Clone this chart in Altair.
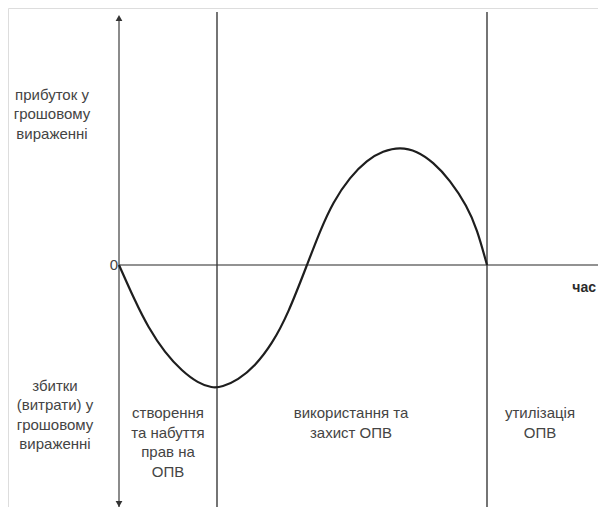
import altair as alt
import pandas as pd

# Curve (t: time units, v: money units; 1 unit ~ 10 px)
curve_t = [0.0, 1.6, 2.9, 4.6, 6.3, 7.9, 9.3, 10.3, 11.9, 13.6, 15.3, 16.9, 18.8,
           20.1, 21.4, 23.1, 24.8, 26.4, 28.1, 29.8, 31.4, 33.1, 34.8, 35.8, 36.8]
curve_v = [0.0, -3.6, -6.2, -8.8, -10.6, -11.8, -12.3, -12.2, -11.5, -10.1, -7.9, -4.9, 0.0,
           3.4, 6.3, 8.8, 10.5, 11.4, 11.8, 11.4, 10.3, 8.5, 5.9, 3.6, 0.0]

phase_lines_t = [9.8, 36.8]
phase_texts = ["створення\nта набуття\nправ на\nОПВ", "використання та\nзахист ОПВ", "утилізація\nОПВ"]
phase_text_t = [4.9, 23.2, 42.1]
phase_text_v = [-14.8, -14.8, -14.8]

y_labels = ["прибуток у\nгрошовому\nвираженні", "збитки\n(витрати) у\nгрошовому\nвираженні"]
y_label_t = [-6.7, -6.4]
y_label_v = [17.0, -12.1]

X_DOM = [-11.1, 47.9]
Y_DOM = [-24.2, 25.7]
W, H = 590, 499

xs = alt.Scale(domain=X_DOM, nice=False, zero=False)
ys = alt.Scale(domain=Y_DOM, nice=False, zero=False)

def X(f):
    return alt.X(f, type="quantitative", scale=xs, axis=None)

def Y(f):
    return alt.Y(f, type="quantitative", scale=ys, axis=None)

AXIS_COL = "#6e6e6e"
LINE_COL = "#3a3a3a"
TXT_COL = "#444444"
FONT = "Liberation Sans"

# axes
yaxis = pd.DataFrame({"t": [0.0], "v1": [24.6], "v2": [-24.2]})
xaxis = pd.DataFrame({"v": [0.0], "t1": [0.0], "t2": [47.9]})
yaxis_rule = alt.Chart(yaxis).mark_rule(color=AXIS_COL, strokeWidth=1.6).encode(
    x=X("t"), y=Y("v1"), y2="v2")
xaxis_rule = alt.Chart(xaxis).mark_rule(color=AXIS_COL, strokeWidth=1.6).encode(
    y=Y("v"), x=X("t1"), x2="t2")

arrows = pd.DataFrame({
    "t": [0.0, 0.0],
    "v": [24.7, -23.9],
    "shape": ["triangle-up", "triangle-down"],
})
arrow_marks = alt.Chart(arrows).mark_point(filled=True, size=45, color="#333333", opacity=1).encode(
    x=X("t"), y=Y("v"), shape=alt.Shape("shape:N", scale=None, legend=None))

vlines = pd.DataFrame({"t": phase_lines_t, "v1": [25.3, 25.3], "v2": [-24.2, -24.2]})
vline_rules = alt.Chart(vlines).mark_rule(color=LINE_COL, strokeWidth=1.4).encode(
    x=X("t"), y=Y("v1"), y2="v2")

cdf = pd.DataFrame({"t": curve_t, "v": curve_v})
curve_line = alt.Chart(cdf).mark_line(color="#1e1e1e", strokeWidth=2.2, interpolate="basis").encode(
    x=X("t"), y=Y("v"))

ptxt = pd.DataFrame({"t": phase_text_t, "v": phase_text_v, "label": phase_texts})
phase_text_marks = alt.Chart(ptxt).mark_text(
    font=FONT, fontSize=15, color=TXT_COL, lineBreak="\n", lineHeight=19.6,
    align="center", baseline="middle").encode(x=X("t"), y=Y("v"), text="label:N")

ytxt = pd.DataFrame({"t": y_label_t, "v": y_label_v, "label": y_labels})
y_text_marks = alt.Chart(ytxt).mark_text(
    font=FONT, fontSize=15, color=TXT_COL, lineBreak="\n", lineHeight=19.4,
    align="center", baseline="middle").encode(x=X("t"), y=Y("v"), text="label:N")

zero_txt = alt.Chart(pd.DataFrame({"t": [-0.1], "v": [0.0], "label": ["0"]})).mark_text(
    font=FONT, fontSize=15, color=TXT_COL, align="right", baseline="middle").encode(
    x=X("t"), y=Y("v"), text="label:N")

time_txt = alt.Chart(pd.DataFrame({"t": [47.7], "v": [-2.3], "label": ["час"]})).mark_text(
    font=FONT, fontSize=14, fontWeight="bold", color="#2a2a2a", align="right", baseline="middle").encode(
    x=X("t"), y=Y("v"), text="label:N")

chart = alt.layer(
    yaxis_rule, xaxis_rule, vline_rules, curve_line, arrow_marks,
    phase_text_marks, y_text_marks, zero_txt, time_txt,
).properties(
    width=W, height=H, padding=0,
    autosize=alt.AutoSizeParams(type="none"),
).configure_view(stroke=None).configure(background="white")

chart.save("out.html", embed_options={"renderer": "svg", "actions": False})
